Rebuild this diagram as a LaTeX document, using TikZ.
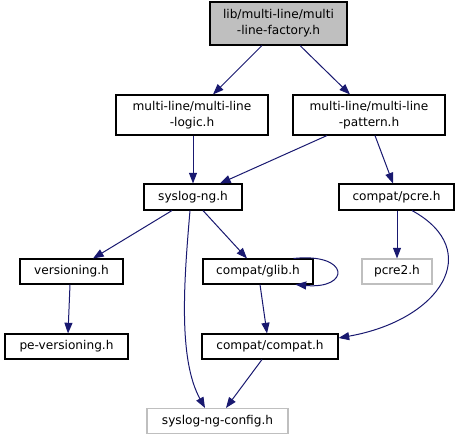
\documentclass[tikz,border=0pt]{standalone}
\usepackage{fontspec}
\setmainfont{DejaVu Sans}
\usetikzlibrary{positioning,calc,arrows.meta}
\definecolor{edgeblue}{HTML}{191970}
\definecolor{boxgray}{HTML}{BFBFBF}

\begin{document}
\begin{tikzpicture}[
  x=0.75pt, y=-0.75pt,
  hdr/.style={draw=black,line width=0.8pt,inner sep=0pt,align=center,
    minimum height=18.75pt,font=\fontsize{9.1}{12}\selectfont},
  miss/.style={hdr,draw=boxgray},
  root/.style={hdr,fill=boxgray},
  dep/.style={draw=edgeblue,line width=0.75pt,
    -{Triangle[length=8pt,width=6pt]}}
  ]

   \useasboundingbox (0,0) rectangle (460,440);

   \node (fac) [root,minimum width=102.75pt,minimum height=32.25pt] at (278.5,23.5) {lib/multi-line/multi\\-line-factory.h};
   \node (lgc) [hdr,minimum width=114pt,minimum height=30pt] at (192,115) {multi-line/multi-line\\-logic.h};
   \node (pat) [hdr,minimum width=114pt,minimum height=30pt] at (369,115) {multi-line/multi-line\\-pattern.h};
   \node (sng) [hdr,minimum width=73.5pt,minimum height=19.5pt] at (193,197) {syslog-ng.h};
   \node (pcr) [hdr,minimum width=86.25pt,minimum height=19.5pt] at (396.5,197) {compat/pcre.h};
   \node (ver) [hdr,minimum width=77.25pt] at (71.5,271.5) {versioning.h};
   \node (gli) [hdr,minimum width=82.5pt] at (258,271.5) {compat/glib.h};
   \node (pc2) [miss,minimum width=52.5pt] at (397,271.5) {pcre2.h};
   \node (pev) [hdr,minimum width=92.25pt] at (66.5,346.5) {pe-versioning.h};
   \node (cmp) [hdr,minimum width=102pt] at (270,346.5) {compat/compat.h};
   \node (cfg) [miss,minimum width=105.75pt] at (217.5,421) {syslog-ng-config.h};

   \draw [dep] ($(fac.south)+(-16.5,0)$) -- ($(lgc.north)+(21,0)$);
   \draw [dep] ($(fac.south)+(21.5,0)$) -- ($(pat.north)+(-19,0)$);
   \draw [dep] ($(lgc.south)+(1,0)$) -- (sng.north);
   \draw [dep] ($(pat.south)+(-42,0)$) -- ($(sng.north)+(27,0)$);
   \draw [dep] ($(pat.south)+(6,0)$) -- ($(pcr.north)+(-3.5,0)$);

   \draw [dep] ($(sng.south)+(-21,0)$) -- ($(ver.north)+(21.5,0)$);
   \draw [dep] ($(sng.south)+(10,0)$) -- ($(gli.north)+(-11,0)$);
   \draw [dep] ($(sng.south)+(-3,0)$) .. controls +(-6,70) and +(-27,-49) .. ($(cfg.north)+(-12.5,0)$);
   \draw [dep] ($(gli.north east)+(-20,0)$) .. controls +(57,-6) and +(55,5) .. ($(gli.south east)+(-18,0)$);
   \draw [dep] ($(gli.south)+(2,0)$) -- ($(cmp.north)+(-3,0)$);
   \draw [dep] ($(pcr.south)+(0.5,0)$) -- (pc2.north);
   \draw [dep] ($(pcr.south)+(15.5,0)$) .. controls +(73,40) and +(102,-18) .. ($(cmp.east)+(0,-8.5)$);

   \draw [dep] ($(ver.south)+(-1.5,0)$) -- ($(pev.north)+(1.5,0)$);
   \draw [dep] ($(cmp.south)+(-8,0)$) -- ($(cfg.north)+(8.5,0)$);

\end{tikzpicture}
\end{document}
